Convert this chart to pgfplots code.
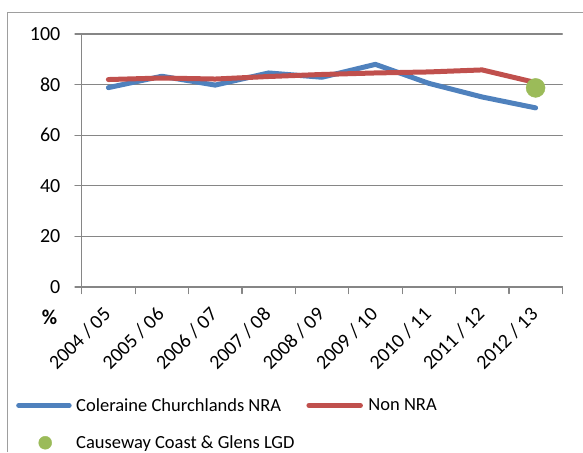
\documentclass[border=0pt]{standalone}
\usepackage{pgfplots}
\pgfplotsset{compat=1.18}
\usepackage{fontspec}
\setmainfont{Carlito}
\definecolor{cblue}{HTML}{4F81BD}
\definecolor{cred}{HTML}{C0504D}
\definecolor{cgreen}{HTML}{9BBB59}
\definecolor{cgrid}{RGB}{134,134,134}
\begin{document}
\begin{tikzpicture}[x=1pt,y=1pt]
\useasboundingbox (0,0) rectangle (583,452);
\draw[cgrid!80, line width=1.2pt] (7.3,0) -- (7.3,439.5) -- (590,439.5);
\begin{axis}[
  at={(81.7pt,165pt)}, anchor=south west,
  scale only axis, width=480.6pt, height=253pt,
  xmin=-0.5, xmax=8.5, ymin=0, ymax=100,
  axis lines*=left,
  axis line style={cgrid, line width=1.2pt},
  ytick={0,20,...,100},
  ymajorgrids, grid style={cgrid, line width=1.2pt},
  tick align=outside,
  major tick length=6.7pt,
  y tick style={cgrid, line width=1.2pt},
  xtick={0,...,8},
  xticklabels={2004 / 05,2005 / 06,2006 / 07,2007 / 08,2008 / 09,2009 / 10,2010 / 11,2011 / 12,2012 / 13},
  major x tick style={draw=none},
  minor xtick={-0.5,0.5,...,8.5},
  minor x tick style={cgrid, line width=1.2pt},
  minor tick length=6.5pt,
  tick label style={font=\fontsize{20}{24}\selectfont},
  /pgf/number format/assume math mode=true,
  yticklabel style={anchor=east, inner xsep=0pt, xshift=-14.5pt},
  xticklabel style={inner sep=0pt, anchor=north east, xshift=-6.4pt, yshift=-12pt, rotate=45},
  clip=false,
  legend columns=2,
  legend style={at={(axis description cs:-0.1367,-0.439)}, anchor=north west,
    draw=none, fill=none, font=\fontsize{18.5}{22}\selectfont, inner sep=0pt,
    row sep=23pt,
    /tikz/every even column/.append style={column sep=12pt},
    nodes={inner sep=0pt}},
  legend cell align=left,
  line join=round, line cap=round,
]
\addplot[cblue, line width=5pt,
  legend image code/.code={\draw[cblue, line width=5pt, line cap=round] (2.5pt,0pt) -- (53pt,0pt); \path[draw=none, fill=none] (0pt,0pt) rectangle (60pt,0.1pt);}]
  coordinates {(0,78.8) (1,83.3) (2,79.8) (3,84.6) (4,82.9) (5,88.0) (6,80.5) (7,75.1) (8,70.8)};
\addlegendentry{Coleraine Churchlands NRA}
\addplot[cred, line width=5pt,
  legend image code/.code={\draw[cred, line width=5pt, line cap=round] (2.5pt,0pt) -- (54pt,0pt); \path[draw=none, fill=none] (0pt,0pt) rectangle (62pt,0.1pt);}]
  coordinates {(0,82.0) (1,82.6) (2,82.2) (3,83.2) (4,84.0) (5,84.6) (6,85.0) (7,85.8) (8,80.8)};
\addlegendentry{Non NRA}
\addplot[only marks, mark=*, mark size=9.5pt, mark options={cgreen, fill=cgreen, draw=cgreen},
  legend image code/.code={\fill[cgreen] (29pt,0pt) circle (6.5pt); \path[draw=none, fill=none] (0pt,0pt) rectangle (60pt,0.1pt);}]
  coordinates {(8,78.7)};
\addlegendentry{Causeway Coast \& Glens LGD}
\node[font=\fontsize{21}{24}\selectfont\bfseries] at (axis description cs:-0.067,-0.1186) {\%};
\end{axis}
\end{tikzpicture}
\end{document}
